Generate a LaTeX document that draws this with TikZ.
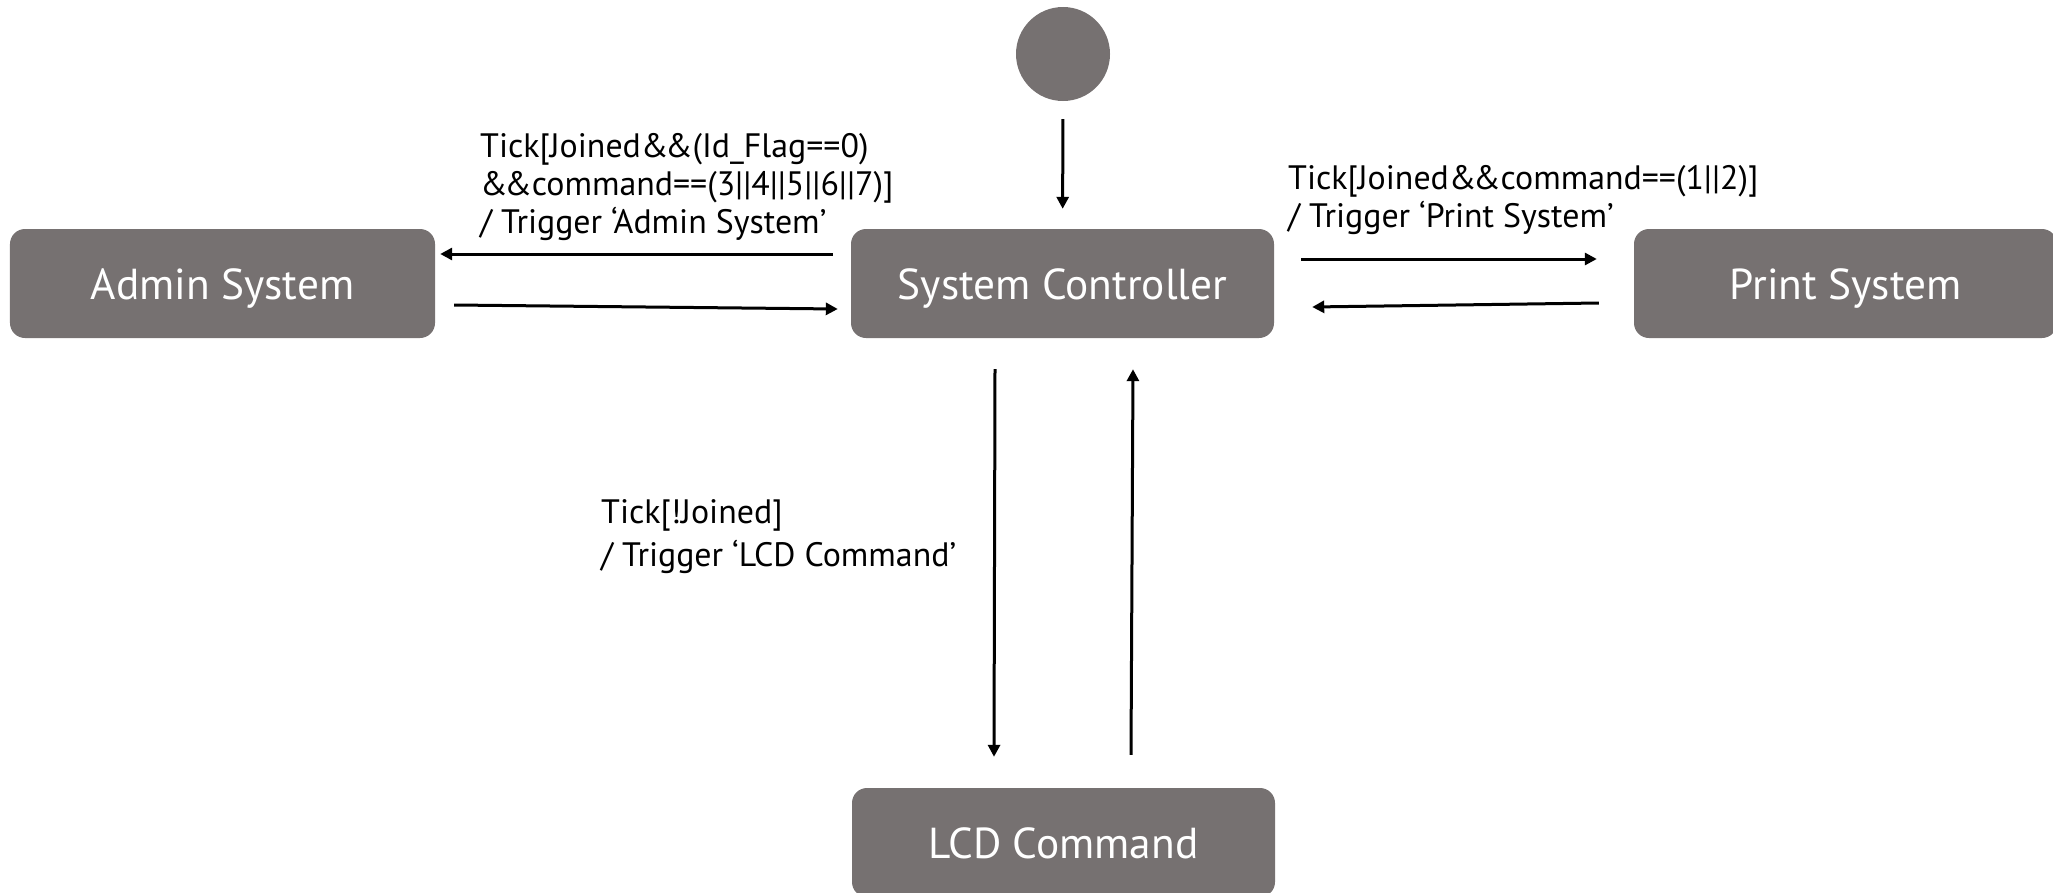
\documentclass[tikz,border=0pt]{standalone}
\usepackage{fontspec}
\setmainfont{PT Sans}
\usetikzlibrary{arrows.meta}
\definecolor{boxgray}{RGB}{118,113,113}
\newcommand\ampamp{\&\kern-3.5bp\&}
\tikzset{
  state/.style={fill=boxgray, rounded corners=15bp, minimum width=423bp, minimum height=109bp,
    text=white, font=\fontsize{43.5}{48}\selectfont, inner sep=0pt, text height=40bp, text depth=9bp},
  initstate/.style={circle, fill=boxgray, minimum size=94bp, inner sep=0pt},
  arr/.style={line width=3bp, -{Triangle[length=12bp,width=12bp]}},
  lbl/.style={align=left, anchor=west, inner sep=0pt, font=\fontsize{34}{38}\selectfont}
}
\begin{document}
\begin{tikzpicture}[x=1bp,y=-1bp]
\useasboundingbox (0,0) rectangle (2053,893);
\begin{scope}
\clip (0,0) rectangle (2053,893);
\node[initstate] (init) at (1063,54) {};
\node[state] (sc) at (1062.5,283.5) {System Controller};
\node[state, minimum width=425bp] (admin) at (222.5,283.5) {Admin System};
\node[state] (print) at (1845.5,283.5) {Print System};
\node[state] (lcd) at (1063.5,842.5) {LCD Command};
\end{scope}

\draw[arr, shorten <=18bp, shorten >=20bp] (init) -- (sc);

\draw[arr] ([xshift=-18bp,yshift=29.5bp]sc.west) -- ([xshift=5bp,yshift=29.5bp]admin.east);
\draw[arr] ([xshift=19bp,yshift=-21.5bp]admin.east) -- ([xshift=-13bp,yshift=-25.5bp]sc.west);

\draw[arr] ([xshift=27bp,yshift=24.5bp]sc.east) -- ([xshift=-37bp,yshift=24.5bp]print.west);
\draw[arr] ([xshift=-35bp,yshift=-19.5bp]print.west) -- ([xshift=38bp,yshift=-23.5bp]sc.east);

\draw[arr] ([xshift=-67.5bp,yshift=-31bp]sc.south) -- ([xshift=-69.5bp,yshift=31bp]lcd.north);
\draw[arr] ([xshift=67.5bp,yshift=33bp]lcd.north) -- ([xshift=70.5bp,yshift=-31bp]sc.south);

\node[lbl] (ladmin) at (480,187) {Tick[Joined\ampamp(Id\_Flag==0)\\\ampamp command==(3||4||5||6||7)]\\/ Trigger ‘Admin System’};
\node[lbl] (lprint) at (1288,200) {Tick[Joined\ampamp command==(1||2)]\\/ Trigger ‘Print System’};
\node[lbl, font=\fontsize{34}{43}\selectfont] (llcd) at (601,536.5) {Tick[!Joined]\\/ Trigger ‘LCD Command’};
\end{tikzpicture}
\end{document}
